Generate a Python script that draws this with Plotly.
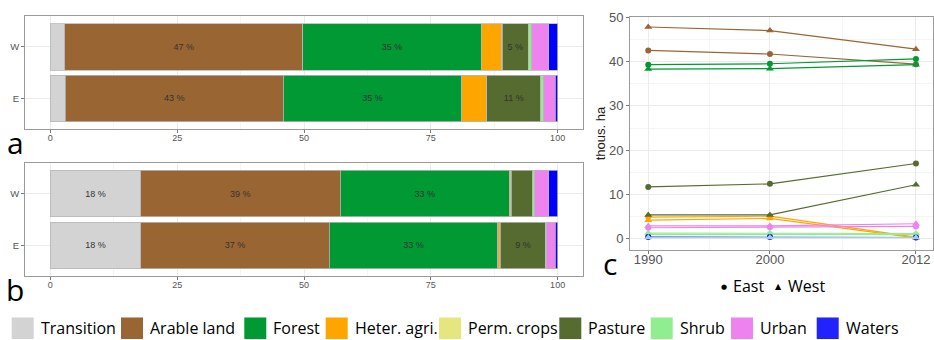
import plotly.graph_objects as go

# ---------------- data ----------------
categories = ["Transition", "Arable land", "Forest", "Heter. agri.", "Perm. crops",
              "Pasture", "Shrub", "Urban", "Waters"]
colors = ["#D3D3D3", "#996633", "#009933", "#FFA500", "#E6E680",
          "#556B2F", "#90EE90", "#EE82EE", "#0000FF"]
legend_colors = ["#D3D3D3", "#996633", "#009933", "#FFA500", "#E6E680",
                 "#556B2F", "#90EE90", "#EE82EE", "#2222FF"]
regions = ["E", "W"]

a_W = [2.8, 47.0, 35.1, 4.0, 0.2, 5.1, 0.7, 3.3, 1.8]
a_E = [2.9, 43.0, 35.2, 4.8, 0.1, 10.7, 0.5, 2.3, 0.5]
b_W = [17.8, 39.3, 33.4, 0.2, 0.2, 4.2, 0.4, 2.7, 1.8]
b_E = [17.8, 37.2, 33.2, 0.4, 0.1, 8.9, 0.2, 1.7, 0.5]

pct_ticks = [0, 25, 50, 75, 100]

years = [1990, 2000, 2012]
arable_east = [42.5, 41.7, 39.4]
arable_west = [47.8, 47.0, 42.8]
forest_east = [39.3, 39.5, 40.6]
forest_west = [38.3, 38.4, 39.3]
heter_east = [4.9, 5.1, 0.4]
heter_west = [4.2, 4.6, 0.2]
pasture_east = [11.7, 12.4, 17.0]
pasture_west = [5.4, 5.4, 12.2]
urban_east = [2.5, 2.6, 2.8]
urban_west = [2.9, 2.9, 3.4]
shrub_east = [1.0, 1.0, 1.0]
shrub_west = [1.3, 1.3, 1.2]
waters_east = [0.4, 0.4, 0.3]
waters_west = [0.3, 0.3, 0.3]

W, H = 934, 340
FONT = "Liberation Sans, Arial, sans-serif"
LEGFONT = "Open Sans, Noto Sans, sans-serif"

fig = go.Figure()

# ---------------- stacked bars (panels a, b) ----------------
for axx, axy, Wv, Ev in [("x", "y", a_W, a_E), ("x2", "y2", b_W, b_E)]:
    for i, cat in enumerate(categories):
        vals = [Ev[i], Wv[i]]
        fig.add_trace(go.Bar(
            orientation="h", y=regions, x=vals, width=0.9,
            marker=dict(color=colors[i], line=dict(color="#b8b8b8", width=0.8)),
            text=[f"{round(v)} %" if v >= 5 else "" for v in vals],
            textposition="inside", insidetextanchor="middle", textangle=0,
            textfont=dict(size=9, color="#333333", family=FONT),
            xaxis=axx, yaxis=axy, showlegend=False, hoverinfo="skip", name=cat))

# ---------------- lines (panel c) ----------------
line_series = [
    ("Arable land", colors[1], arable_east, arable_west),
    ("Forest", colors[2], forest_east, forest_west),
    ("Heter. agri.", colors[3], heter_east, heter_west),
    ("Pasture", colors[5], pasture_east, pasture_west),
    ("Shrub", colors[6], shrub_east, shrub_west),
    ("Urban", colors[7], urban_east, urban_west),
    ("Waters", colors[8], waters_east, None),
]
for name, col, east, west in line_series:
    fig.add_trace(go.Scatter(
        x=years, y=east, mode="lines+markers", xaxis="x3", yaxis="y3",
        line=dict(color=col, width=1.2), marker=dict(symbol="circle", size=6, color=col),
        showlegend=False, hoverinfo="skip"))
    if west is not None:
        fig.add_trace(go.Scatter(
            x=years, y=west, mode="lines+markers", xaxis="x3", yaxis="y3",
            line=dict(color=col, width=1.2), marker=dict(symbol="triangle-up", size=7, color=col),
            showlegend=False, hoverinfo="skip"))
fig.add_trace(go.Scatter(
    x=years, y=waters_west, mode="lines+markers", xaxis="x3", yaxis="y3",
    line=dict(color="#A6CEE3", width=1.6), marker=dict(symbol="triangle-up", size=7, color="#A6CEE3"),
    showlegend=False, hoverinfo="skip"))

# ---------------- axes ----------------
def px_x(a, b):
    return [a / W, b / W]

def px_y(top, bottom):
    return [1 - bottom / H, 1 - top / H]

common_axis = dict(showline=True, mirror=True, linecolor="#9a9a9a", linewidth=1,
                   ticks="outside", ticklen=3, tickcolor="#777777",
                   zeroline=False, showgrid=True, gridcolor="#EBEBEB", gridwidth=1)

bar_x = dict(common_axis, range=[-5, 105], tickvals=pct_ticks, ticklabelstandoff=-3,
             tickfont=dict(size=9, color="#555555", family=FONT),
             minor=dict(tickvals=[12.5, 37.5, 62.5, 87.5], showgrid=True,
                        gridcolor="#F5F5F5", ticks=""))
bar_y = dict(common_axis, type="category", categoryorder="array", categoryarray=regions,
             range=[-0.6, 1.6], tickfont=dict(size=9.5, color="#555555", family=FONT))

fig.update_layout(
    width=W, height=H, margin=dict(l=0, r=0, t=0, b=0),
    paper_bgcolor="white", plot_bgcolor="white", barmode="stack",
    font=dict(family=FONT),
    xaxis=dict(bar_x, domain=px_x(25, 583), anchor="y"),
    yaxis=dict(bar_y, domain=px_y(9, 125), anchor="x"),
    xaxis2=dict(bar_x, domain=px_x(25, 583), anchor="y2"),
    yaxis2=dict(bar_y, domain=px_y(159, 275), anchor="x2"),
    xaxis3=dict(common_axis, domain=px_x(630, 933), anchor="y3",
                range=[1988.5, 2013.4], tickvals=years, ticklabelstandoff=-5,
                tickfont=dict(size=13, color="#555555", family=FONT),
                minor=dict(tickvals=[1995, 2006], showgrid=True, gridcolor="#F5F5F5", ticks="")),
    yaxis3=dict(common_axis, domain=px_y(10, 248), anchor="x3",
                range=[-2.5, 50.1], tickvals=[0, 10, 20, 30, 40, 50],
                tickfont=dict(size=13, color="#555555", family=FONT),
                minor=dict(tickvals=[5, 15, 25, 35, 45], showgrid=True, gridcolor="#F5F5F5", ticks="")),
)

ann = []
shapes = []


def add_text(text, x, y, size, xanchor="center", yanchor="middle", color="black",
             family=LEGFONT, angle=0):
    ann.append(dict(text=text, x=x / W, y=1 - y / H, xref="paper", yref="paper",
                    showarrow=False, xanchor=xanchor, yanchor=yanchor, textangle=angle,
                    font=dict(size=size, color=color, family=family)))


# y title panel c
add_text("thous. ha", 600, 129, 13, color="#1a1a1a", family=FONT, angle=-90)
# panel letters
add_text("a", 15, 138, 30)
add_text("b", 15, 288, 30)
add_text("c", 610, 262, 30)
# East / West key
add_text("●", 724, 286, 7, family="DejaVu Sans")
add_text("East", 731, 285, 16, xanchor="left")
add_text("▲", 778, 285, 8, family="DejaVu Sans")
add_text("West", 786, 285, 16, xanchor="left")

# bottom legend
legend_key_left = [11.7, 121, 244.3, 325.7, 439, 559.3, 650.7, 731, 816.7]
for i, cat in enumerate(categories):
    x0 = legend_key_left[i]
    shapes.append(dict(type="rect", xref="paper", yref="paper",
                       x0=x0 / W, x1=(x0 + 22) / W, y0=1 - 339 / H, y1=1 - 317 / H,
                       fillcolor=legend_colors[i], line=dict(width=0)))
    add_text(cat, x0 + 27, 328, 16, xanchor="left")

fig.update_layout(annotations=ann, shapes=shapes)
fig.write_html("out.html")
